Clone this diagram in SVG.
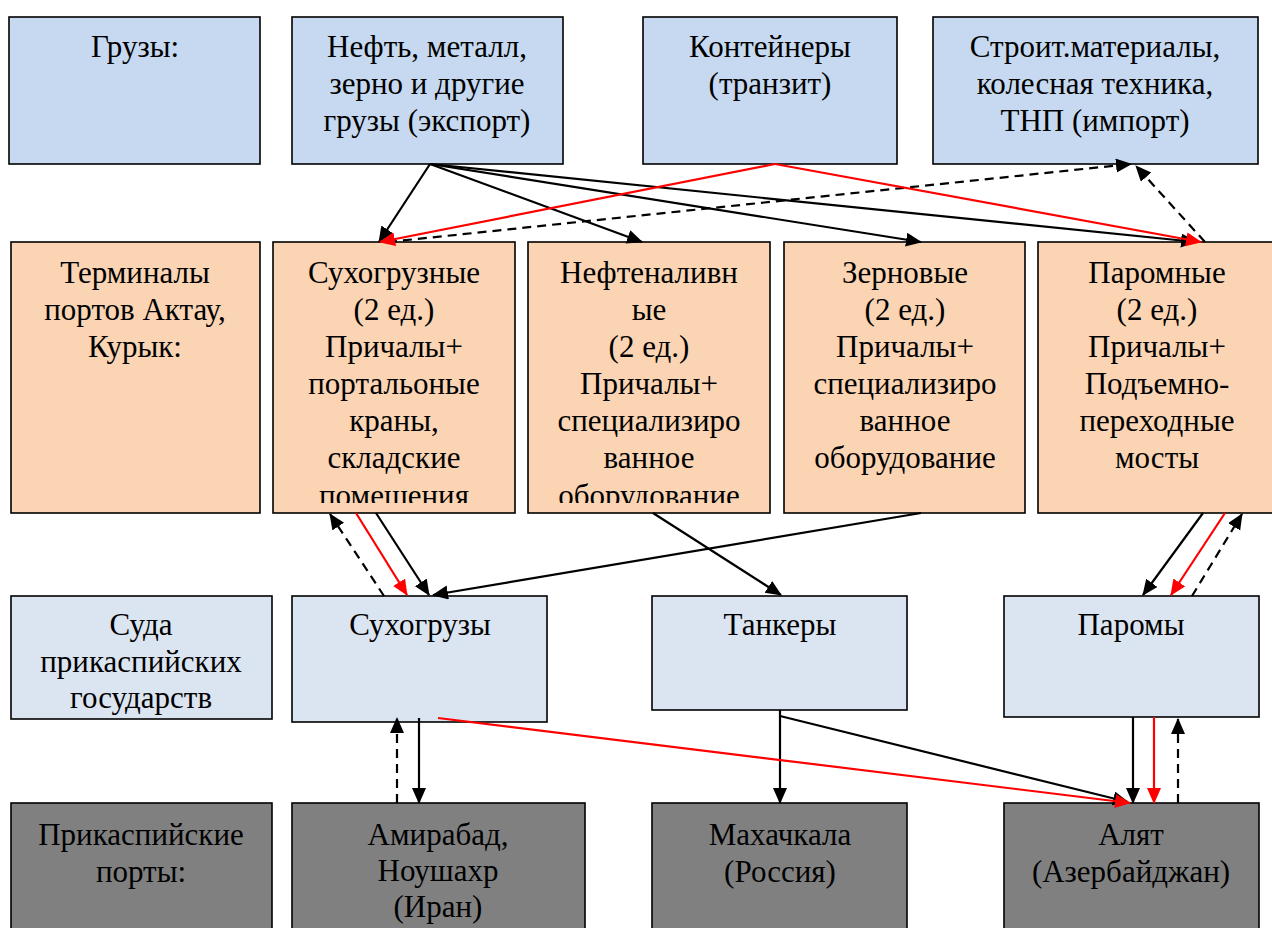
<svg xmlns="http://www.w3.org/2000/svg" width="1272" height="928" viewBox="0 0 1272 928">
<style>
.box{stroke:#000;stroke-width:1.6}
.r1{fill:#C6D9F0}
.r2{fill:#FBD4B4}
.r3{fill:#DBE5F1}
.r4{fill:#808080}
.t text{font-family:"Liberation Serif","Times New Roman",serif;font-size:31px;fill:#000;text-anchor:middle}
.c{fill:none;stroke-width:2.2}
.k{stroke:#000}
.red{stroke:#FF0000}
.d{stroke-dasharray:9 6}
</style>
<defs>
<marker id="ak" markerUnits="userSpaceOnUse" markerWidth="18" markerHeight="16" refX="15" refY="7" orient="auto"><path d="M0,0 L16,7 L0,14 z" fill="#000"/></marker>
<marker id="ar" markerUnits="userSpaceOnUse" markerWidth="18" markerHeight="16" refX="15" refY="7" orient="auto"><path d="M0,0 L16,7 L0,14 z" fill="#FF0000"/></marker>
<clipPath id="clipT"><rect x="0" y="242" width="1272" height="261"/></clipPath>
</defs>
<rect width="1272" height="928" fill="#fff"/>
<g class="t">
<g id="n_gruzy"><rect class="box r1" x="9" y="17" width="251" height="147"/><text x="135" y="57">Грузы:</text></g>
<g id="n_export"><rect class="box r1" x="292" y="17" width="271" height="147"/><text x="427" y="57">Нефть, металл,</text><text x="427" y="94">зерно и другие</text><text x="427" y="131">грузы (экспорт)</text></g>
<g id="n_transit"><rect class="box r1" x="643" y="17" width="254" height="147"/><text x="770" y="57">Контейнеры</text><text x="770" y="94">(транзит)</text></g>
<g id="n_import"><rect class="box r1" x="933" y="17" width="325" height="147"/><text x="1095" y="57">Строит.материалы,</text><text x="1095" y="94">колесная техника,</text><text x="1095" y="131">ТНП (импорт)</text></g>

<g id="n_term"><rect class="box r2" x="11" y="242" width="249" height="271"/><text x="135" y="283">Терминалы</text><text x="135" y="320">портов Актау,</text><text x="135" y="357">Курык:</text></g>
<g id="n_suhT"><rect class="box r2" x="273" y="242" width="242" height="271"/><g clip-path="url(#clipT)"><text x="394" y="283">Сухогрузные</text><text x="394" y="320">(2 ед.)</text><text x="394" y="357">Причалы+</text><text x="394" y="394">портальоные</text><text x="394" y="431">краны,</text><text x="394" y="468">складские</text><text x="394" y="506">помещения</text></g></g>
<g id="n_neftT"><rect class="box r2" x="528" y="242" width="242" height="271"/><g clip-path="url(#clipT)"><text x="649" y="283">Нефтеналивн</text><text x="649" y="320">ые</text><text x="649" y="357">(2 ед.)</text><text x="649" y="394">Причалы+</text><text x="649" y="431">специализиро</text><text x="649" y="468">ванное</text><text x="649" y="506">оборудование</text></g></g>
<g id="n_zernT"><rect class="box r2" x="784" y="242" width="241" height="271"/><text x="905" y="283">Зерновые</text><text x="905" y="320">(2 ед.)</text><text x="905" y="357">Причалы+</text><text x="905" y="394">специализиро</text><text x="905" y="431">ванное</text><text x="905" y="468">оборудование</text></g>
<g id="n_paromT"><rect class="box r2" x="1038" y="242" width="240" height="271"/><text x="1157" y="283">Паромные</text><text x="1157" y="320">(2 ед.)</text><text x="1157" y="357">Причалы+</text><text x="1157" y="394">Подъемно-</text><text x="1157" y="431">переходные</text><text x="1157" y="468">мосты</text></g>

<g id="n_suda"><rect class="box r3" x="11" y="596" width="261" height="123"/><text x="141" y="635">Суда</text><text x="141" y="672">прикаспийских</text><text x="141" y="708">государств</text></g>
<g id="n_suhS"><rect class="box r3" x="292" y="596" width="255" height="126"/><text x="420" y="635">Сухогрузы</text></g>
<g id="n_tank"><rect class="box r3" x="652" y="596" width="255" height="114"/><text x="780" y="635">Танкеры</text></g>
<g id="n_parS"><rect class="box r3" x="1004" y="596" width="255" height="121"/><text x="1131" y="635">Паромы</text></g>

<g id="n_ports"><rect class="box r4" x="11" y="803" width="261" height="135"/><text x="141" y="845">Прикаспийские</text><text x="141" y="882">порты:</text></g>
<g id="n_amir"><rect class="box r4" x="292" y="803" width="293" height="135"/><text x="438" y="845">Амирабад,</text><text x="438" y="881">Ноушахр</text><text x="438" y="917">(Иран)</text></g>
<g id="n_mah"><rect class="box r4" x="652" y="803" width="255" height="135"/><text x="780" y="845">Махачкала</text><text x="780" y="882">(Россия)</text></g>
<g id="n_alyat"><rect class="box r4" x="1004" y="803" width="255" height="135"/><text x="1131" y="845">Алят</text><text x="1131" y="882">(Азербайджан)</text></g>
</g>
<g id="connectors">
<line class="c k" x1="430" y1="164" x2="379" y2="242" marker-end="url(#ak)"/>
<line class="c k" x1="430" y1="164" x2="642" y2="242" marker-end="url(#ak)"/>
<line class="c k" x1="430" y1="164" x2="921" y2="242" marker-end="url(#ak)"/>
<line class="c k" x1="430" y1="164" x2="1196" y2="242" marker-end="url(#ak)"/>
<line class="c k d" x1="388" y1="242" x2="1131" y2="164" marker-end="url(#ak)"/>
<line class="c k d" x1="1205" y1="242" x2="1136" y2="166" marker-end="url(#ak)"/>
<line class="c red" x1="775" y1="164" x2="380" y2="242" marker-end="url(#ar)"/>
<line class="c red" x1="775" y1="164" x2="1201" y2="242" marker-end="url(#ar)"/>
<line class="c k d" x1="384" y1="596" x2="330" y2="514" marker-end="url(#ak)"/>
<line class="c red" x1="356" y1="513" x2="407" y2="595" marker-end="url(#ar)"/>
<line class="c k" x1="376" y1="513" x2="429" y2="595" marker-end="url(#ak)"/>
<line class="c k" x1="921" y1="513" x2="433" y2="595" marker-end="url(#ak)"/>
<line class="c k" x1="653" y1="513" x2="781" y2="595" marker-end="url(#ak)"/>
<line class="c k" x1="1203" y1="513" x2="1143" y2="595" marker-end="url(#ak)"/>
<line class="c red" x1="1225" y1="513" x2="1171" y2="595" marker-end="url(#ar)"/>
<line class="c k d" x1="1192" y1="596" x2="1242" y2="514" marker-end="url(#ak)"/>
<line class="c k d" x1="397" y1="803" x2="397" y2="718" marker-end="url(#ak)"/>
<line class="c k" x1="419" y1="718" x2="419" y2="803" marker-end="url(#ak)"/>
<line class="c k" x1="780" y1="710" x2="780" y2="803" marker-end="url(#ak)"/>
<line class="c k" x1="780" y1="716" x2="1128" y2="802" marker-end="url(#ak)"/>
<line class="c red" x1="438" y1="718" x2="1130" y2="803" marker-end="url(#ar)"/>
<line class="c k" x1="1133" y1="717" x2="1133" y2="803" marker-end="url(#ak)"/>
<line class="c red" x1="1154" y1="717" x2="1154" y2="803" marker-end="url(#ar)"/>
<line class="c k d" x1="1178" y1="803" x2="1178" y2="719" marker-end="url(#ak)"/>
</g>
</svg>
